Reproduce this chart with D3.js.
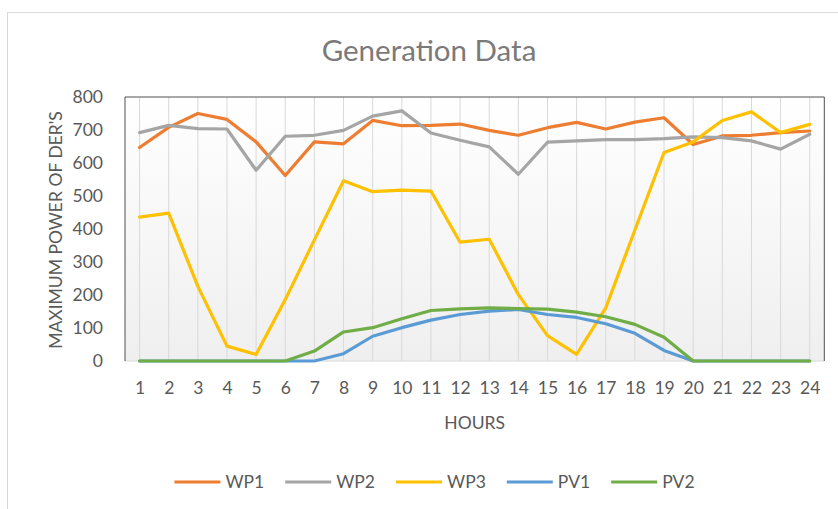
<!DOCTYPE html>
<html>
<head>
<meta charset="utf-8">
<script src="https://cdn.jsdelivr.net/npm/d3@7"></script>
<style>
  html, body { margin: 0; padding: 0; background: #ffffff; }
  svg { display: block; font-family: Lato, "Open Sans", sans-serif; }
</style>
</head>
<body>
<svg id="chart" width="838" height="509"></svg>
<script>
// ---- data ----
const hours = [1,2,3,4,5,6,7,8,9,10,11,12,13,14,15,16,17,18,19,20,21,22,23,24];
const WP1 = [647,708,750,732,664,562,664,658,729,713,714,718,699,684,707,723,703,724,737,656,682,684,692,697];
const WP2 = [692,714,704,703,578,681,684,699,742,758,691,669,649,566,663,667,671,671,674,679,677,667,642,687];
const WP3 = [436,448,226,45,20,186,367,546,513,518,515,360,369,201,77,20,161,397,632,664,729,755,692,717];
const PV1 = [0,0,0,0,0,0,0,22,75,101,124,141,151,156,141,132,113,84,32,0,0,0,0,0];
const PV2 = [0,0,0,0,0,0,30,88,101,128,153,158,161,159,157,148,134,111,72,0,0,0,0,0];
const seriesNames = ["WP1","WP2","WP3","PV1","PV2"];
const seriesValues = [WP1, WP2, WP3, PV1, PV2];
const yTicks = [0,100,200,300,400,500,600,700,800];
const titleText = "Generation Data";
const xTitle = "HOURS";
const yTitle = "MAXIMUM POWER OF DER'S";

// ---- layout / style ----
const colors = ["#ED7D31","#A5A5A5","#FFC000","#5B9BD5","#70AD47"];
const plot = {left: 125, right: 824.3, top: 97, bottom: 361};
const svg = d3.select("#chart");

// outer chart border
svg.append("rect")
  .attr("x", 7.5).attr("y", 12.5).attr("width", 900).attr("height", 600)
  .attr("fill", "#ffffff").attr("stroke", "#d9d9d9").attr("stroke-width", 1);

// gradient
const defs = svg.append("defs");
const grad = defs.append("linearGradient").attr("id", "bg")
  .attr("x1", 0).attr("y1", 0).attr("x2", 0).attr("y2", 1);
grad.append("stop").attr("offset", "0%").attr("stop-color", "#ffffff");
grad.append("stop").attr("offset", "100%").attr("stop-color", "#efefef");

const x = d3.scalePoint().domain(hours).range([plot.left, plot.right]).padding(0.5);
const y = d3.scaleLinear().domain([0, 800]).range([plot.bottom, plot.top]);

svg.append("rect")
  .attr("x", plot.left).attr("y", plot.top)
  .attr("width", plot.right - plot.left).attr("height", plot.bottom - plot.top)
  .attr("fill", "url(#bg)");

// vertical gridlines
svg.append("g").selectAll("line").data(hours).join("line")
  .attr("x1", d => x(d)).attr("x2", d => x(d))
  .attr("y1", plot.top).attr("y2", plot.bottom)
  .attr("stroke", "#d9d9d9").attr("stroke-width", 1);

// bottom axis line
svg.append("line")
  .attr("x1", plot.left).attr("x2", plot.right)
  .attr("y1", plot.bottom).attr("y2", plot.bottom)
  .attr("stroke", "#d9d9d9").attr("stroke-width", 1);

// plot frame (left, top, right)
svg.append("path")
  .attr("d", `M${plot.left},${plot.bottom}V${plot.top}H${plot.right}V${plot.bottom}`)
  .attr("fill", "none").attr("stroke", "#505050").attr("stroke-width", 1);

// axes
const yAxis = svg.append("g").attr("transform", `translate(${plot.left},0)`)
  .call(d3.axisLeft(y).tickValues(yTicks).tickSize(0).tickPadding(22));
yAxis.select(".domain").remove();
yAxis.selectAll("text").attr("fill", "#595959").style("font-size", "17.5px")
  .style("font-family", "Lato, sans-serif");

const xAxis = svg.append("g").attr("transform", `translate(0,${plot.bottom})`)
  .call(d3.axisBottom(x).tickSize(0).tickPadding(21));
xAxis.select(".domain").remove();
xAxis.selectAll("text").attr("fill", "#595959").style("font-size", "17.5px")
  .style("font-family", "Lato, sans-serif");

// lines
const line = d3.line().x((d, i) => x(hours[i])).y(d => y(d));
svg.append("g").selectAll("path").data(seriesValues).join("path")
  .attr("d", d => line(d))
  .attr("fill", "none")
  .attr("stroke", (d, i) => colors[i])
  .attr("stroke-width", 3.2)
  .attr("stroke-linejoin", "round")
  .attr("stroke-linecap", "round");

// title
svg.append("text").attr("x", 429).attr("y", 60.5)
  .attr("text-anchor", "middle").attr("fill", "#7a7a7a")
  .style("font-size", "29.5px").text(titleText);

// axis titles
svg.append("text").attr("x", (plot.left + plot.right) / 2).attr("y", 428.5)
  .attr("text-anchor", "middle").attr("fill", "#595959")
  .style("font-size", "17.5px").text(xTitle);

svg.append("text")
  .attr("transform", `translate(61.5,${(plot.top + plot.bottom) / 2 + 1}) rotate(-90)`)
  .attr("text-anchor", "middle").attr("fill", "#595959")
  .style("font-size", "17.5px").text(yTitle);

// legend
const legend = svg.append("g");
const lineLen = 46, gapText = 5, gapItem = 21;
const items = legend.selectAll("g").data(seriesNames).join("g");
items.append("line")
  .attr("x1", 0).attr("x2", lineLen).attr("y1", 0).attr("y2", 0)
  .attr("stroke", (d, i) => colors[i]).attr("stroke-width", 3.2);
items.append("text")
  .attr("x", lineLen + gapText).attr("y", 6.3)
  .attr("fill", "#595959").style("font-size", "17.5px").text(d => d);
let cx = 0;
const offsets = [];
items.each(function() {
  const w = d3.select(this).select("text").node().getComputedTextLength();
  offsets.push(cx);
  cx += lineLen + gapText + w + gapItem;
});
const total = cx - gapItem;
const startX = 434.5 - total / 2;
items.attr("transform", (d, i) => `translate(${startX + offsets[i]},482)`);
</script>
</body>
</html>
